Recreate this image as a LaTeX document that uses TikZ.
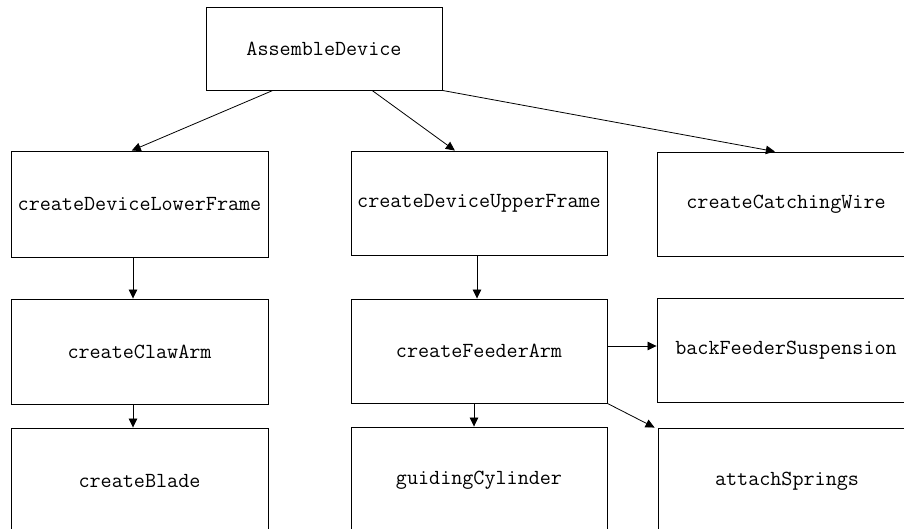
\documentclass[tikz,border=0pt]{standalone}
\usetikzlibrary{arrows.meta,calc}
\begin{document}
\begin{tikzpicture}[x=1pt,y=-1pt,
  box/.style={draw=black,line width=0.9pt,rectangle,inner sep=0pt,
    font=\ttfamily\fontsize{21.5}{24}\selectfont},
  arr/.style={draw=black,line width=0.8pt,-{Triangle[length=9pt,width=8.5pt]}}]
\clip (0,0) rectangle (904,529);
\fill[white] (0,0) rectangle (904,529);
\node[box,minimum width=236pt,minimum height=83pt] (ad) at (324,48.5) {AssembleDevice};
\node[box,minimum width=257pt,minimum height=106pt] (lf) at (139.5,204) {createDeviceLowerFrame};
\node[box,minimum width=256pt,minimum height=104pt] (uf) at (479,203) {createDeviceUpperFrame};
\node[box,minimum width=258pt,minimum height=104pt] (cw) at (786,204) {createCatchingWire};
\node[box,minimum width=257pt,minimum height=105pt] (claw) at (139.5,351.5) {createClawArm};
\node[box,minimum width=256pt,minimum height=104pt] (fa) at (479,351) {createFeederArm};
\node[box,minimum width=258pt,minimum height=104pt] (bfs) at (786,350) {backFeederSuspension};
\node[box,minimum width=257pt,minimum height=106pt] (blade) at (139.5,481) {createBlade};
\node[box,minimum width=256pt,minimum height=106pt] (gc) at (479,480) {guidingCylinder};
\node[box,minimum width=258pt,minimum height=106pt] (as) at (787,481) {attachSprings};
\draw[arr] ($(ad.south west)!0.284!(ad.south east)$) -- ($(lf.north west)!0.47!(lf.north east)$);
\draw[arr] ($(ad.south west)!0.703!(ad.south east)$) -- ($(uf.north west)!0.406!(uf.north east)$);
\draw[arr] (ad.south east) -- ($(cw.north west)!0.457!(cw.north east)$);
\coordinate (x1) at (133,0);
\coordinate (x2) at (477,0);
\coordinate (x3) at (474,0);
\coordinate (y1) at (0,346);
\draw[arr] (lf.south -| x1) -- (claw.north -| x1);
\draw[arr] (claw.south -| x1) -- (blade.north -| x1);
\draw[arr] (uf.south -| x2) -- (fa.north -| x2);
\draw[arr] (fa.south -| x3) -- (gc.north -| x3);
\draw[arr] (fa.east |- y1) -- (bfs.west |- y1);
\draw[arr] (fa.south east) -- ($(as.north west)+(-3,0)$);
\end{tikzpicture}
\end{document}
